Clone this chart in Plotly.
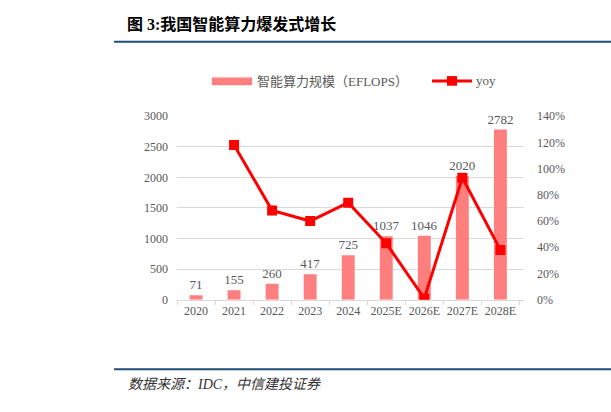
import plotly.graph_objects as go

years = ['2020', '2021', '2022', '2023', '2024', '2025E', '2026E', '2027E', '2028E']
compute_eflops = [71, 155, 260, 417, 725, 1037, 1046, 2020, 2782]
yoy_years = years[1:]
yoy = [1.18, 0.68, 0.60, 0.74, 0.43, 0.01, 0.93, 0.38]

W, H = 611, 412
SERIF = 'Liberation Serif, Noto Sans CJK SC'
GRAY = '#595959'
BAR_RED = '#FF7F7F'
LINE_RED = '#FF0000'


def px_x(x):
    return x / W


def px_y(y):
    return 1 - y / H


fig = go.Figure()
fig.add_trace(go.Bar(
    x=years, y=compute_eflops, name='智能算力规模（EFLOPS）',
    marker=dict(color=BAR_RED, line=dict(width=0)), width=0.34,
    text=[str(v) for v in compute_eflops], textposition='outside', constraintext='none',
    textfont=dict(family=SERIF, size=13, color=GRAY), cliponaxis=False,
))
fig.add_trace(go.Scatter(
    x=yoy_years, y=yoy, name='yoy', yaxis='y2', mode='lines+markers',
    line=dict(color=LINE_RED, width=3),
    marker=dict(symbol='square', size=10, color=LINE_RED),
))

fig.update_layout(
    width=W, height=H, margin=dict(l=0, r=0, t=0, b=0),
    paper_bgcolor='white', plot_bgcolor='white',
    font=dict(family=SERIF, size=12, color=GRAY),
    showlegend=False,
    xaxis=dict(
        domain=[px_x(177), px_x(524)], type='category',
        showline=True, linecolor='#D9D9D9', linewidth=1, tickangle=0,
        ticks='outside', tickson='boundaries', ticklen=4, tickcolor='#D9D9D9',
        tickfont=dict(family=SERIF, size=12, color=GRAY), showgrid=False,
    ),
    yaxis=dict(
        domain=[px_y(303), px_y(113)], range=[0, 3000], dtick=500,
        showgrid=True, gridcolor='#D9D9D9', gridwidth=1, zeroline=False,
        tickfont=dict(family=SERIF, size=12, color=GRAY), ticks='', ticklabelstandoff=8,
    ),
    yaxis2=dict(
        overlaying='y', side='right', range=[0, 1.4], dtick=0.2, tickformat='.0%',
        showgrid=False, zeroline=False,
        tickfont=dict(family=SERIF, size=12, color=GRAY), ticklabelstandoff=12,
    ),
)

# legend drawn by hand so the bar key is a wide strip as in the reference
fig.add_shape(type='rect', xref='paper', yref='paper', x0=px_x(212), x1=px_x(252),
              y0=px_y(81), y1=px_y(73), fillcolor=BAR_RED, line=dict(width=0))
fig.add_annotation(x=px_x(255), y=px_y(77), xref='paper', yref='paper', xanchor='left',
                   yanchor='middle', showarrow=False, text='智能算力规模（EFLOPS）',
                   font=dict(family=SERIF, size=13, color=GRAY))
fig.add_shape(type='line', xref='paper', yref='paper', x0=px_x(432), x1=px_x(472),
              y0=px_y(76.5), y1=px_y(76.5), line=dict(color=LINE_RED, width=3))
fig.add_shape(type='rect', xref='paper', yref='paper', x0=px_x(447), x1=px_x(457),
              y0=px_y(81.5), y1=px_y(71.5), fillcolor=LINE_RED, line=dict(width=0))
fig.add_annotation(x=px_x(474), y=px_y(76), xref='paper', yref='paper', xanchor='left',
                   yanchor='middle', showarrow=False, text='yoy',
                   font=dict(family=SERIF, size=13, color=GRAY))

# report frame: title, rules and source line
fig.add_annotation(x=px_x(125), y=px_y(18), xref='paper', yref='paper', xanchor='left',
                   yanchor='middle', showarrow=False, text='<b>图 3:我国智能算力爆发式增长</b>',
                   font=dict(family=SERIF, size=16, color='#000000'))
fig.add_annotation(x=px_x(126), y=px_y(391), xref='paper', yref='paper', xanchor='left',
                   yanchor='middle', showarrow=False, text='<i>数据来源：IDC，中信建投证券</i>',
                   font=dict(family=SERIF, size=14, color='#333333'))
for y in (36, 375):
    fig.add_shape(type='line', xref='paper', yref='paper', x0=px_x(114), x1=1,
                  y0=px_y(y), y1=px_y(y), line=dict(color='#1F4E79', width=2))

fig.write_html('out.html', config={'displayModeBar': False},
               post_script="document.body.style.margin='0';"
                           "document.body.style.overflow='hidden';")
